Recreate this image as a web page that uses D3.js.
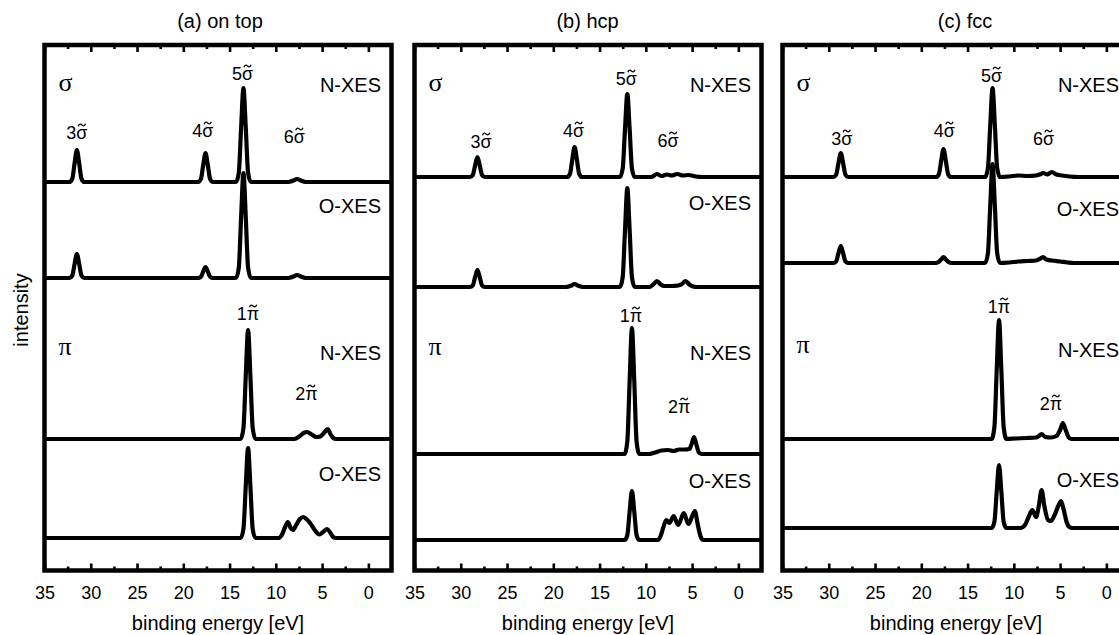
<!DOCTYPE html>
<html><head><meta charset="utf-8">
<script src="https://cdn.jsdelivr.net/npm/d3@7"></script>
<style>body{margin:0;background:#fff} svg{display:block}</style>
</head><body><svg id="chart" width="1119" height="635"></svg>
<script>
// ---------------- DATA ----------------
const panelTitles = ["(a) on top", "(b) hcp", "(c) fcc"];
const traceNames = ["N-XES", "O-XES", "N-XES", "O-XES"];
const symmetryLabels = ["σ", "π"];
const xAxisTitle = "binding energy [eV]";
const yAxisTitle = "intensity";
const tickValues = [35, 30, 25, 20, 15, 10, 5, 0];
const minorTickValues = [32.5, 27.5, 22.5, 17.5, 12.5, 7.5, 2.5];
const energyDomain = [35, -2.5];

// vertical offsets of the stacked spectra (intensity units): sigma N, sigma O, pi N, pi O
const offsetsA = [388.5, 292.5, 131.5, 32.5];
const offsetsB = [393.5, 283.5, 116.5, 30.5];
const offsetsC = [393.5, 307.5, 131.5, 42.5];

// spectra: [binding energy eV, intensity]
const sigmaN_A = [[35,0],[32.3,0],[32.0,3.2],[31.75,18.6],[31.5,32],[31.25,18.6],[31.0,3.2],[30.7,0],
  [18.4,0],[18.1,2.9],[17.85,16.8],[17.6,29],[17.35,16.8],[17.1,2.9],[16.8,0],
  [14.3,0],[14.0,9.4],[13.75,54.5],[13.5,94],[13.25,54.5],[13.0,9.4],[12.7,0],
  [8.6,0],[8.1,1.5],[7.7,3],[7.3,1.5],[6.8,0],[-2.5,0]];
const sigmaO_A = [[35,0],[32.3,0],[32.0,2.4],[31.75,13.9],[31.5,24],[31.25,13.9],[31.0,2.4],[30.7,0],
  [18.4,0],[18.1,1.1],[17.85,6.4],[17.6,11],[17.35,6.4],[17.1,1.1],[16.8,0],
  [14.3,0],[14.0,10.5],[13.75,61],[13.5,105],[13.25,61],[13.0,10.5],[12.7,0],
  [8.6,0],[8.1,1.5],[7.7,3],[7.3,1.5],[6.8,0],[-2.5,0]];
const piN_A = [[35,0],[13.8,0],[13.5,10.9],[13.25,63],[13.0,109],[12.75,63],[12.5,10.9],[12.2,0],
  [8.0,0],[7.4,3],[6.9,6.5],[6.6,7],[6.2,5],[5.6,2],[5.2,2.5],[4.8,6],[4.4,10],[4.1,5],[3.8,1],[3.5,0],[-2.5,0]];
const piO_A = [[35,0],[13.8,0],[13.5,9],[13.25,52],[13.0,90],[12.75,52],[12.5,9],[12.2,0],
  [9.7,0],[9.3,4],[9.0,11],[8.7,16],[8.4,10],[8.15,8],[7.8,13],[7.4,19],[7.05,21],[6.7,19],[6.3,15],[5.8,8],
  [5.3,3.5],[4.9,6],[4.45,9],[4.1,5],[3.8,1],[3.5,0],[-2.5,0]];

const sigmaN_B = [[35,0],[29.0,0],[28.7,2],[28.45,11.6],[28.2,20],[27.95,11.6],[27.7,2],[27.4,0],
  [18.5,0],[18.2,3],[17.95,17.4],[17.7,30],[17.45,17.4],[17.2,3],[16.9,0],
  [12.8,0],[12.5,8.3],[12.25,48],[12.0,83],[11.75,48],[11.5,8.3],[11.2,0],
  [9.4,0],[8.8,3],[8.3,1],[7.7,2.5],[7.2,1.5],[6.6,3],[6.0,1.5],[5.4,2],[4.6,0.5],[4.0,0],[-2.5,0]];
const sigmaO_B = [[35,0],[29.0,0],[28.7,1.7],[28.45,9.9],[28.2,17],[27.95,9.9],[27.7,1.7],[27.4,0],
  [18.6,0],[18.1,1.2],[17.7,3],[17.3,1.2],[16.8,0],
  [12.8,0],[12.5,9.9],[12.25,57],[12.0,99],[11.75,57],[11.5,9.9],[11.2,0],
  [9.6,0],[9.2,2.5],[8.8,6],[8.4,2.5],[8.0,1],[7.2,1],[6.5,1.5],[6.1,3],[5.7,6],[5.3,2.5],[4.9,0.5],[4.5,0],[-2.5,0]];
const piN_B = [[35,0],[12.3,0],[12.0,12.6],[11.75,73],[11.5,126],[11.25,73],[11.0,12.6],[10.7,0],
  [9.6,0],[9.0,1.5],[8.3,3.5],[7.6,4],[7.0,3],[6.4,4.5],[5.8,4.5],[5.3,5],[5.05,10],[4.8,17],[4.55,10],[4.3,2],[4.0,0],[-2.5,0]];
const piO_B = [[35,0],[12.3,0],[12.0,4.9],[11.75,28.4],[11.5,49],[11.25,28.4],[11.0,4.9],[10.7,0],
  [8.7,0],[8.4,4],[8.1,13],[7.8,20],[7.45,17],[7.0,24],[6.5,15],[5.9,27],[5.4,16],[4.7,29],[4.4,16],[4.1,4],[3.8,0],[-2.5,0]];

const sigmaN_C = [[35,0],[29.5,0],[29.2,2.4],[28.95,13.9],[28.7,24],[28.45,13.9],[28.2,2.4],[27.9,0],
  [18.4,0],[18.1,2.8],[17.85,16.2],[17.6,28],[17.35,16.2],[17.1,2.8],[16.8,0],
  [13.1,0],[12.8,8.9],[12.55,51.6],[12.3,89],[12.05,51.6],[11.8,8.9],[11.5,0],
  [10.5,0.5],[9.5,1.5],[8.5,1],[7.6,1.5],[7.2,2.5],[6.8,4],[6.4,2.5],[5.9,5],[5.4,2.5],[4.8,1.5],[4.0,0.5],[3.0,0],[-2.5,0]];
const sigmaO_C = [[35,0],[29.5,0],[29.2,1.7],[28.95,9.9],[28.7,17],[28.45,9.9],[28.2,1.7],[27.9,0],
  [18.5,0],[18.1,1.2],[17.85,3.5],[17.6,6],[17.35,3.5],[17.1,1.2],[16.7,0],
  [13.1,0],[12.8,9.9],[12.55,57],[12.3,99],[12.05,57],[11.8,9.9],[11.5,0],
  [10.5,0.5],[9.5,1.5],[8.5,2],[7.6,2.5],[7.2,4],[6.85,6],[6.5,3.5],[5.9,2.5],[5.0,1.5],[4.2,0.5],[3.5,0],[-2.5,0]];
const piN_C = [[35,0],[12.4,0],[12.1,11.9],[11.85,69],[11.6,119],[11.35,69],[11.1,11.9],[10.8,0],
  [9.8,0.5],[8.6,1],[7.6,1.5],[7.3,3],[7.0,5],[6.6,2],[6.0,1.5],[5.4,3],[5.0,9],[4.7,16],[4.4,9],[4.1,2],[3.8,0],[-2.5,0]];
const piO_C = [[35,0],[12.4,0],[12.1,6.3],[11.85,36.5],[11.6,63],[11.35,36.5],[11.1,6.3],[10.8,0],
  [9.3,0],[8.8,3],[8.4,11],[8.0,18],[7.6,11],[7.3,22],[7.0,38],[6.7,22],[6.3,8],[6.0,7],[5.6,13],[5.2,22],
  [4.9,27],[4.6,18],[4.3,6],[4.0,1],[3.7,0],[-2.5,0]];

// peak annotations: [number, orbital, energy, intensity level of text baseline]
const peakLabelsA = [["3","σ",31.5,431.5],["4","σ",17.9,433.5],["5","σ",13.6,490.5],["6","σ",8.0,427.5],["1","π",13.0,250.5],["2","π",6.7,170.5]];
const peakLabelsB = [["3","σ",27.8,422.5],["4","σ",17.8,433.5],["5","σ",12.1,485.5],["6","σ",7.6,423.5],["1","π",11.6,248.5],["2","π",6.4,157.5]];
const peakLabelsC = [["3","σ",28.6,425.5],["4","σ",17.5,433.5],["5","σ",12.4,488.5],["6","σ",6.8,425.5],["1","π",11.6,257.5],["2","π",6.0,160.5]];

// ---------------- LAYOUT ----------------
const L = {
  lefts: [44.5, 414.5, 782.5], width: 347, top: 45, bottom: 570.5,
  titleX: [220, 587.5, 965], titleY: 28,
  nameY: [[92, 213, 360, 481], [92, 210, 360, 488], [92, 216, 357, 487]],
  symY: [[91, 355], [91, 355], [91, 353]],
  tickLabelY: 600, axisTitleY: 630
};
const sans = "'Liberation Sans', Arial, Helvetica, sans-serif";
const serif = "'Liberation Serif', 'Times New Roman', serif";

const panels = [
  { series: [sigmaN_A, sigmaO_A, piN_A, piO_A], offsets: offsetsA, labels: peakLabelsA },
  { series: [sigmaN_B, sigmaO_B, piN_B, piO_B], offsets: offsetsB, labels: peakLabelsB },
  { series: [sigmaN_C, sigmaO_C, piN_C, piO_C], offsets: offsetsC, labels: peakLabelsC }
];

const svg = d3.select("#chart");
const y = d3.scaleLinear().domain([0, L.bottom - L.top]).range([L.bottom, L.top]);

// y-axis title
svg.append("text")
  .attr("transform", "translate(28,310) rotate(-90)")
  .attr("text-anchor", "middle")
  .style("font-family", sans).style("font-size", "20px")
  .text(yAxisTitle);

panels.forEach((p, i) => {
  const x0 = L.lefts[i], x1 = x0 + L.width;
  const x = d3.scaleLinear().domain(energyDomain).range([x0, x1]);
  const g = svg.append("g");
  const cid = "clip" + i;
  svg.append("clipPath").attr("id", cid).append("rect")
    .attr("x", x0).attr("y", L.top).attr("width", L.width).attr("height", L.bottom - L.top);

  // title
  g.append("text").attr("x", L.titleX[i]).attr("y", L.titleY).attr("text-anchor", "middle")
    .style("font-family", sans).style("font-size", "20px").text(panelTitles[i]);

  // spectra
  const tg = g.append("g").attr("clip-path", `url(#${cid})`);
  p.series.forEach((s, k) => {
    const line = d3.line().x(d => x(d[0])).y(d => y(p.offsets[k] + d[1])).curve(d3.curveMonotoneX);
    tg.append("path").datum(s).attr("d", line)
      .attr("fill", "none").attr("stroke", "#000").attr("stroke-width", 4.2)
      .attr("stroke-linejoin", "round").attr("stroke-linecap", "butt");
  });

  // ticks
  const styleAxis = (sel) => { sel.select(".domain").remove(); sel.selectAll("line").attr("stroke", "#000").attr("stroke-width", 2.6); };
  g.append("g").attr("transform", `translate(0,${L.bottom})`)
    .call(d3.axisBottom(x).tickValues(tickValues).tickSize(-7).tickPadding(16).tickFormat(d3.format("d")))
    .call(styleAxis)
    .call(sel => sel.selectAll("text").style("font-family", sans).style("font-size", "18px").attr("fill", "#000"));
  g.append("g").attr("transform", `translate(0,${L.bottom})`)
    .call(d3.axisBottom(x).tickValues(minorTickValues).tickSize(-4).tickFormat(""))
    .call(styleAxis);
  g.append("g").attr("transform", `translate(0,${L.top})`)
    .call(d3.axisTop(x).tickValues(tickValues).tickSize(-7).tickFormat(""))
    .call(styleAxis);
  g.append("g").attr("transform", `translate(0,${L.top})`)
    .call(d3.axisTop(x).tickValues(minorTickValues).tickSize(-4).tickFormat(""))
    .call(styleAxis);

  // frame
  g.append("rect").attr("x", x0).attr("y", L.top).attr("width", L.width).attr("height", L.bottom - L.top)
    .attr("fill", "none").attr("stroke", "#000").attr("stroke-width", 4.5);

  // x axis title
  g.append("text").attr("x", (x0 + x1) / 2).attr("y", L.axisTitleY).attr("text-anchor", "middle")
    .style("font-family", sans).style("font-size", "20px").text(xAxisTitle);

  // trace names
  traceNames.forEach((t, k) => {
    g.append("text").attr("x", x1 - 10.5).attr("y", L.nameY[i][k]).attr("text-anchor", "end")
      .style("font-family", sans).style("font-size", "20px").text(t);
  });
  // symmetry labels
  symmetryLabels.forEach((t, k) => {
    g.append("text").attr("x", x0 + 14).attr("y", L.symY[i][k])
      .style("font-family", serif).style("font-size", "26px").text(t);
  });

  // peak labels with a drawn tilde over the orbital letter
  p.labels.forEach(d => {
    const by = y(d[3]);
    const t = g.append("text").attr("x", x(d[2])).attr("y", by).attr("text-anchor", "middle")
      .style("font-family", sans).style("font-size", "18px").text(d[0] + d[1]);
    const node = t.node();
    const s = node.getStartPositionOfChar(1).x, e = node.getEndPositionOfChar(1).x;
    const cx = (s + e) / 2, cy = by - 14;
    g.append("path")
      .attr("d", `M${cx - 3.6},${cy + 1.3} C${cx - 2.6},${cy - 1.8} ${cx - 0.9},${cy - 0.7} ${cx},${cy} S${cx + 2.6},${cy + 1.8} ${cx + 3.6},${cy - 1.3}`)
      .attr("fill", "none").attr("stroke", "#000").attr("stroke-width", 1.3);
  });
});
</script>
</body></html>
